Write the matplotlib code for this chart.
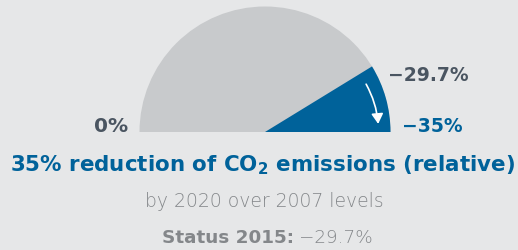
import numpy as np
import matplotlib.pyplot as plt
from matplotlib.patches import Wedge, FancyArrowPatch

# data
target = -35.0          # 2020 target, % vs 2007
status = -29.7          # status 2015
gauge_span = 200.0      # % covered by the half circle
status_label = '\u221229.7%'
target_label = '\u221235%'
zero_label = '0%'
title = '35% reduction of CO$_2$ emissions (relative)'
subtitle = 'by 2020 over 2007 levels'
status_head = 'Status 2015:'

bg = '#e6e7e8'
grey = '#c8cacc'
blue = '#00629a'
dark = '#4a5561'
light = '#84878a'

plt.rcParams['font.family'] = ['DejaVu Sans']
plt.rcParams['mathtext.default'] = 'regular'

W, H = 518, 251
fig = plt.figure(figsize=(W / 100, H / 100), dpi=100, facecolor=bg)
ax = fig.add_axes([0, 0, 1, 1])
ax.set_xlim(0, W)
ax.set_ylim(H, 0)
ax.axis('off')

cx, cy, r = 265, 133, 125.5

def ang(v):
    # angle in degrees for a % value
    return abs(v) / gauge_span * 180.0

# y axis is inverted, so angles run clockwise
ax.add_patch(Wedge((cx, cy), r, 180, 360, facecolor=grey, edgecolor='none'))
ax.add_patch(Wedge((cx, cy), r, 360 - ang(target), 360, facecolor=blue, edgecolor='none'))

# arrow from status down to the base
a0 = np.radians(ang(status))
a1 = np.radians(2.7)
p0 = (cx + 111.7 * np.cos(a0), cy - 111.7 * np.sin(a0))
p1 = (cx + 113.5 * np.cos(a1), cy - 113.5 * np.sin(a1))
ax.add_patch(FancyArrowPatch(p0, p1, connectionstyle='arc3,rad=-0.12',
                             arrowstyle='-|>,head_length=0.6,head_width=0.35',
                             mutation_scale=10, color='white', lw=1.2))

ax.text(128, 127, zero_label, ha='right', va='center', fontsize=14.5,
        fontweight='bold', color=dark)
ax.text(387.5, 76, status_label, ha='left', va='center', fontsize=13.5,
        fontweight='bold', color=dark)
ax.text(402.5, 126, target_label, ha='left', va='center', fontsize=13.5,
        fontweight='bold', color=blue)

ax.text(263, 165, title, ha='center', va='center', fontsize=15.4,
        fontweight='bold', color=blue)
ax.text(264.5, 202, subtitle, ha='center', va='center', fontsize=13.5,
        fontweight=200, color=light)
ax.text(294, 238, status_head, ha='right', va='center', fontsize=13.2,
        fontweight='bold', color=light)
ax.text(299, 238, status_label, ha='left', va='center', fontsize=13.2,
        fontweight=200, color=light)

fig.savefig('out.png', dpi=100, facecolor=bg)
